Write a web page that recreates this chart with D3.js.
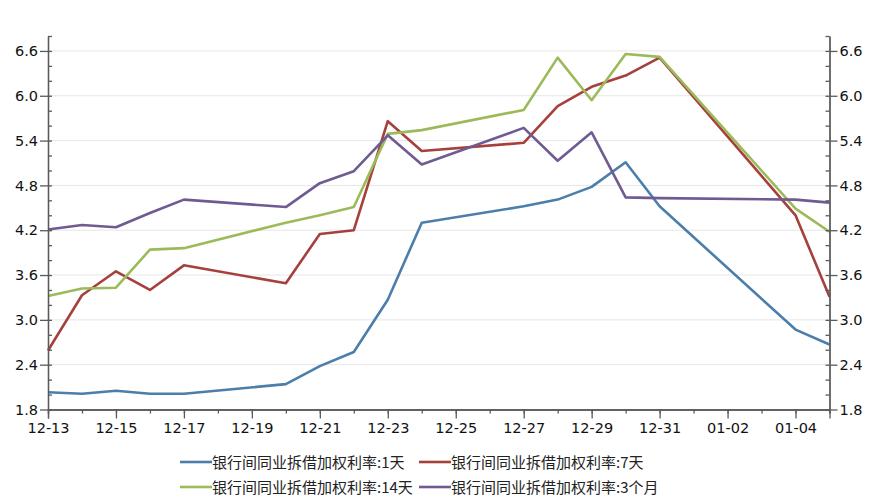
<!DOCTYPE html>
<html>
<head>
<meta charset="utf-8">
<script src="https://cdn.jsdelivr.net/npm/d3@7"></script>
<style>
  body { margin: 0; background: #fff; }
  svg { display: block; }
</style>
</head>
<body>
<div id="chart"></div>
<script>
// ------------------------------
// Data
// ------------------------------

// Trading days (weekends and New Year holiday skipped)
const dates = [
  "2010-12-13", "2010-12-14", "2010-12-15", "2010-12-16", "2010-12-17",
  "2010-12-20", "2010-12-21", "2010-12-22", "2010-12-23", "2010-12-24",
  "2010-12-27", "2010-12-28", "2010-12-29", "2010-12-30", "2010-12-31",
  "2011-01-04", "2011-01-05"
];

const rate1D  = [2.03, 2.01, 2.05, 2.01, 2.01, 2.14, 2.38, 2.57, 3.27, 4.30, 4.52, 4.61, 4.78, 5.11, 4.52, 2.87, 2.67];
const rate7D  = [2.59, 3.33, 3.65, 3.40, 3.73, 3.49, 4.15, 4.20, 5.66, 5.26, 5.37, 5.86, 6.12, 6.27, 6.51, 4.40, 3.31];
const rate14D = [3.32, 3.42, 3.43, 3.94, 3.96, 4.30, 4.40, 4.51, 5.49, 5.54, 5.81, 6.51, 5.94, 6.56, 6.52, 4.49, 4.18];
const rate3M  = [4.21, 4.27, 4.24, 4.43, 4.61, 4.51, 4.83, 4.99, 5.47, 5.08, 5.57, 5.13, 5.51, 4.64, 4.63, 4.61, 4.57];

const seriesNames = [
  "银行间同业拆借加权利率:1天",
  "银行间同业拆借加权利率:7天",
  "银行间同业拆借加权利率:14天",
  "银行间同业拆借加权利率:3个月"
];
const seriesColors = ["#4b7eaa", "#a6403d", "#9bbb5a", "#6f5b92"];

const xTickLabels = ["12-13", "12-15", "12-17", "12-19", "12-21", "12-23", "12-25", "12-27", "12-29", "12-31", "01-02", "01-04"];
const yTickValues = [1.8, 2.4, 3.0, 3.6, 4.2, 4.8, 5.4, 6.0, 6.6];

// ------------------------------
// Setup
// ------------------------------

const width = 878;
const height = 500;
const margin = { top: 36, right: 48.5, bottom: 90.5, left: 48 };
const font = "'DejaVu Sans', Tahoma, sans-serif";

const parse = d3.timeParse("%Y-%m-%d");
const days = dates.map(parse);
const start = parse("2010-12-13");
const end = parse("2011-01-05");

const svg = d3.select("#chart").append("svg").attr("width", width).attr("height", height);

const x = d3.scaleTime().domain([start, end]).range([margin.left, width - margin.right]);
const y = d3.scaleLinear().domain([1.8, 6.8]).range([height - margin.bottom, margin.top]);

// tick dates: every day is a minor tick, every second day gets a label
const allDays = d3.timeDay.range(start, d3.timeDay.offset(end, 1));
const labelDays = allDays.filter((d, i) => i % 2 === 0);
const yMinor = d3.range(1.8, 6.81, 0.2).map((v) => +v.toFixed(2));

// ------------------------------
// Grid
// ------------------------------

svg.append("g")
  .selectAll("line")
  .data(yTickValues)
  .join("line")
  .attr("x1", margin.left)
  .attr("x2", width - margin.right)
  .attr("y1", (d) => y(d))
  .attr("y2", (d) => y(d))
  .attr("stroke", "#e6e6e6")
  .attr("stroke-width", 1);

// ------------------------------
// Lines
// ------------------------------

const allSeries = [rate1D, rate7D, rate14D, rate3M];
const line = d3.line()
  .x((d, i) => x(days[i]))
  .y((d) => y(d));

svg.append("g")
  .selectAll("path")
  .data(allSeries)
  .join("path")
  .attr("d", (d) => line(d))
  .attr("fill", "none")
  .attr("stroke", (d, i) => seriesColors[i])
  .attr("stroke-width", 2.6)
  .attr("stroke-linejoin", "round");

// ------------------------------
// Axes
// ------------------------------

const axisColor = "#5a5a5a";

function styleAxis(g) {
  g.selectAll(".domain").attr("stroke", axisColor).attr("stroke-width", 1.3);
  g.selectAll(".tick line").attr("stroke", axisColor).attr("stroke-width", 1.3);
  g.selectAll("text").attr("font-family", font).attr("font-size", 14.5).attr("fill", "#111");
}

// minor ticks x (downwards)
svg.append("g")
  .attr("transform", `translate(0,${y(1.8)})`)
  .call(d3.axisBottom(x).tickValues(allDays).tickSize(4).tickFormat(""))
  .call(styleAxis);

// major ticks x with labels
svg.append("g")
  .attr("transform", `translate(0,${y(1.8)})`)
  .call(
    d3.axisBottom(x)
      .tickValues(labelDays)
      .tickSize(9)
      .tickPadding(4)
      .tickFormat((d, i) => xTickLabels[i])
  )
  .call(styleAxis);

// left axis: minor ticks inside, major outside
svg.append("g")
  .attr("transform", `translate(${margin.left},0)`)
  .call(d3.axisRight(y).tickValues(yMinor).tickSize(4).tickFormat("").tickSizeOuter(0))
  .call(styleAxis);

svg.append("g")
  .attr("transform", `translate(${margin.left},0)`)
  .call(d3.axisLeft(y).tickValues(yTickValues).tickSize(8).tickPadding(2).tickSizeOuter(0).tickFormat(d3.format(".1f")))
  .call(styleAxis);

// right axis: mirrored
const xr = width - margin.right;
svg.append("g")
  .attr("transform", `translate(${xr},0)`)
  .call(d3.axisLeft(y).tickValues(yMinor).tickSize(4).tickFormat("").tickSizeOuter(0))
  .call(styleAxis);

svg.append("g")
  .attr("transform", `translate(${xr},0)`)
  .call(d3.axisRight(y).tickValues(yTickValues).tickSize(8).tickPadding(2).tickSizeOuter(0).tickFormat(d3.format(".1f")))
  .call(styleAxis);

// ------------------------------
// Legend
// ------------------------------

const legendPos = [
  { x: 180, y: 462 },
  { x: 419, y: 462 },
  { x: 180, y: 487 },
  { x: 419, y: 487 }
];

const legend = svg.append("g")
  .selectAll("g")
  .data(seriesNames)
  .join("g")
  .attr("transform", (d, i) => `translate(${legendPos[i].x},${legendPos[i].y})`);

legend.append("line")
  .attr("x1", 0)
  .attr("x2", 32)
  .attr("stroke", (d, i) => seriesColors[i])
  .attr("stroke-width", 2.6);

legend.append("text")
  .attr("x", 32)
  .attr("y", 5.5)
  .attr("font-family", "'Noto Sans CJK SC', sans-serif")
  .attr("font-size", 15)
  .attr("fill", "#222")
  .text((d) => d);
</script>
</body>
</html>
